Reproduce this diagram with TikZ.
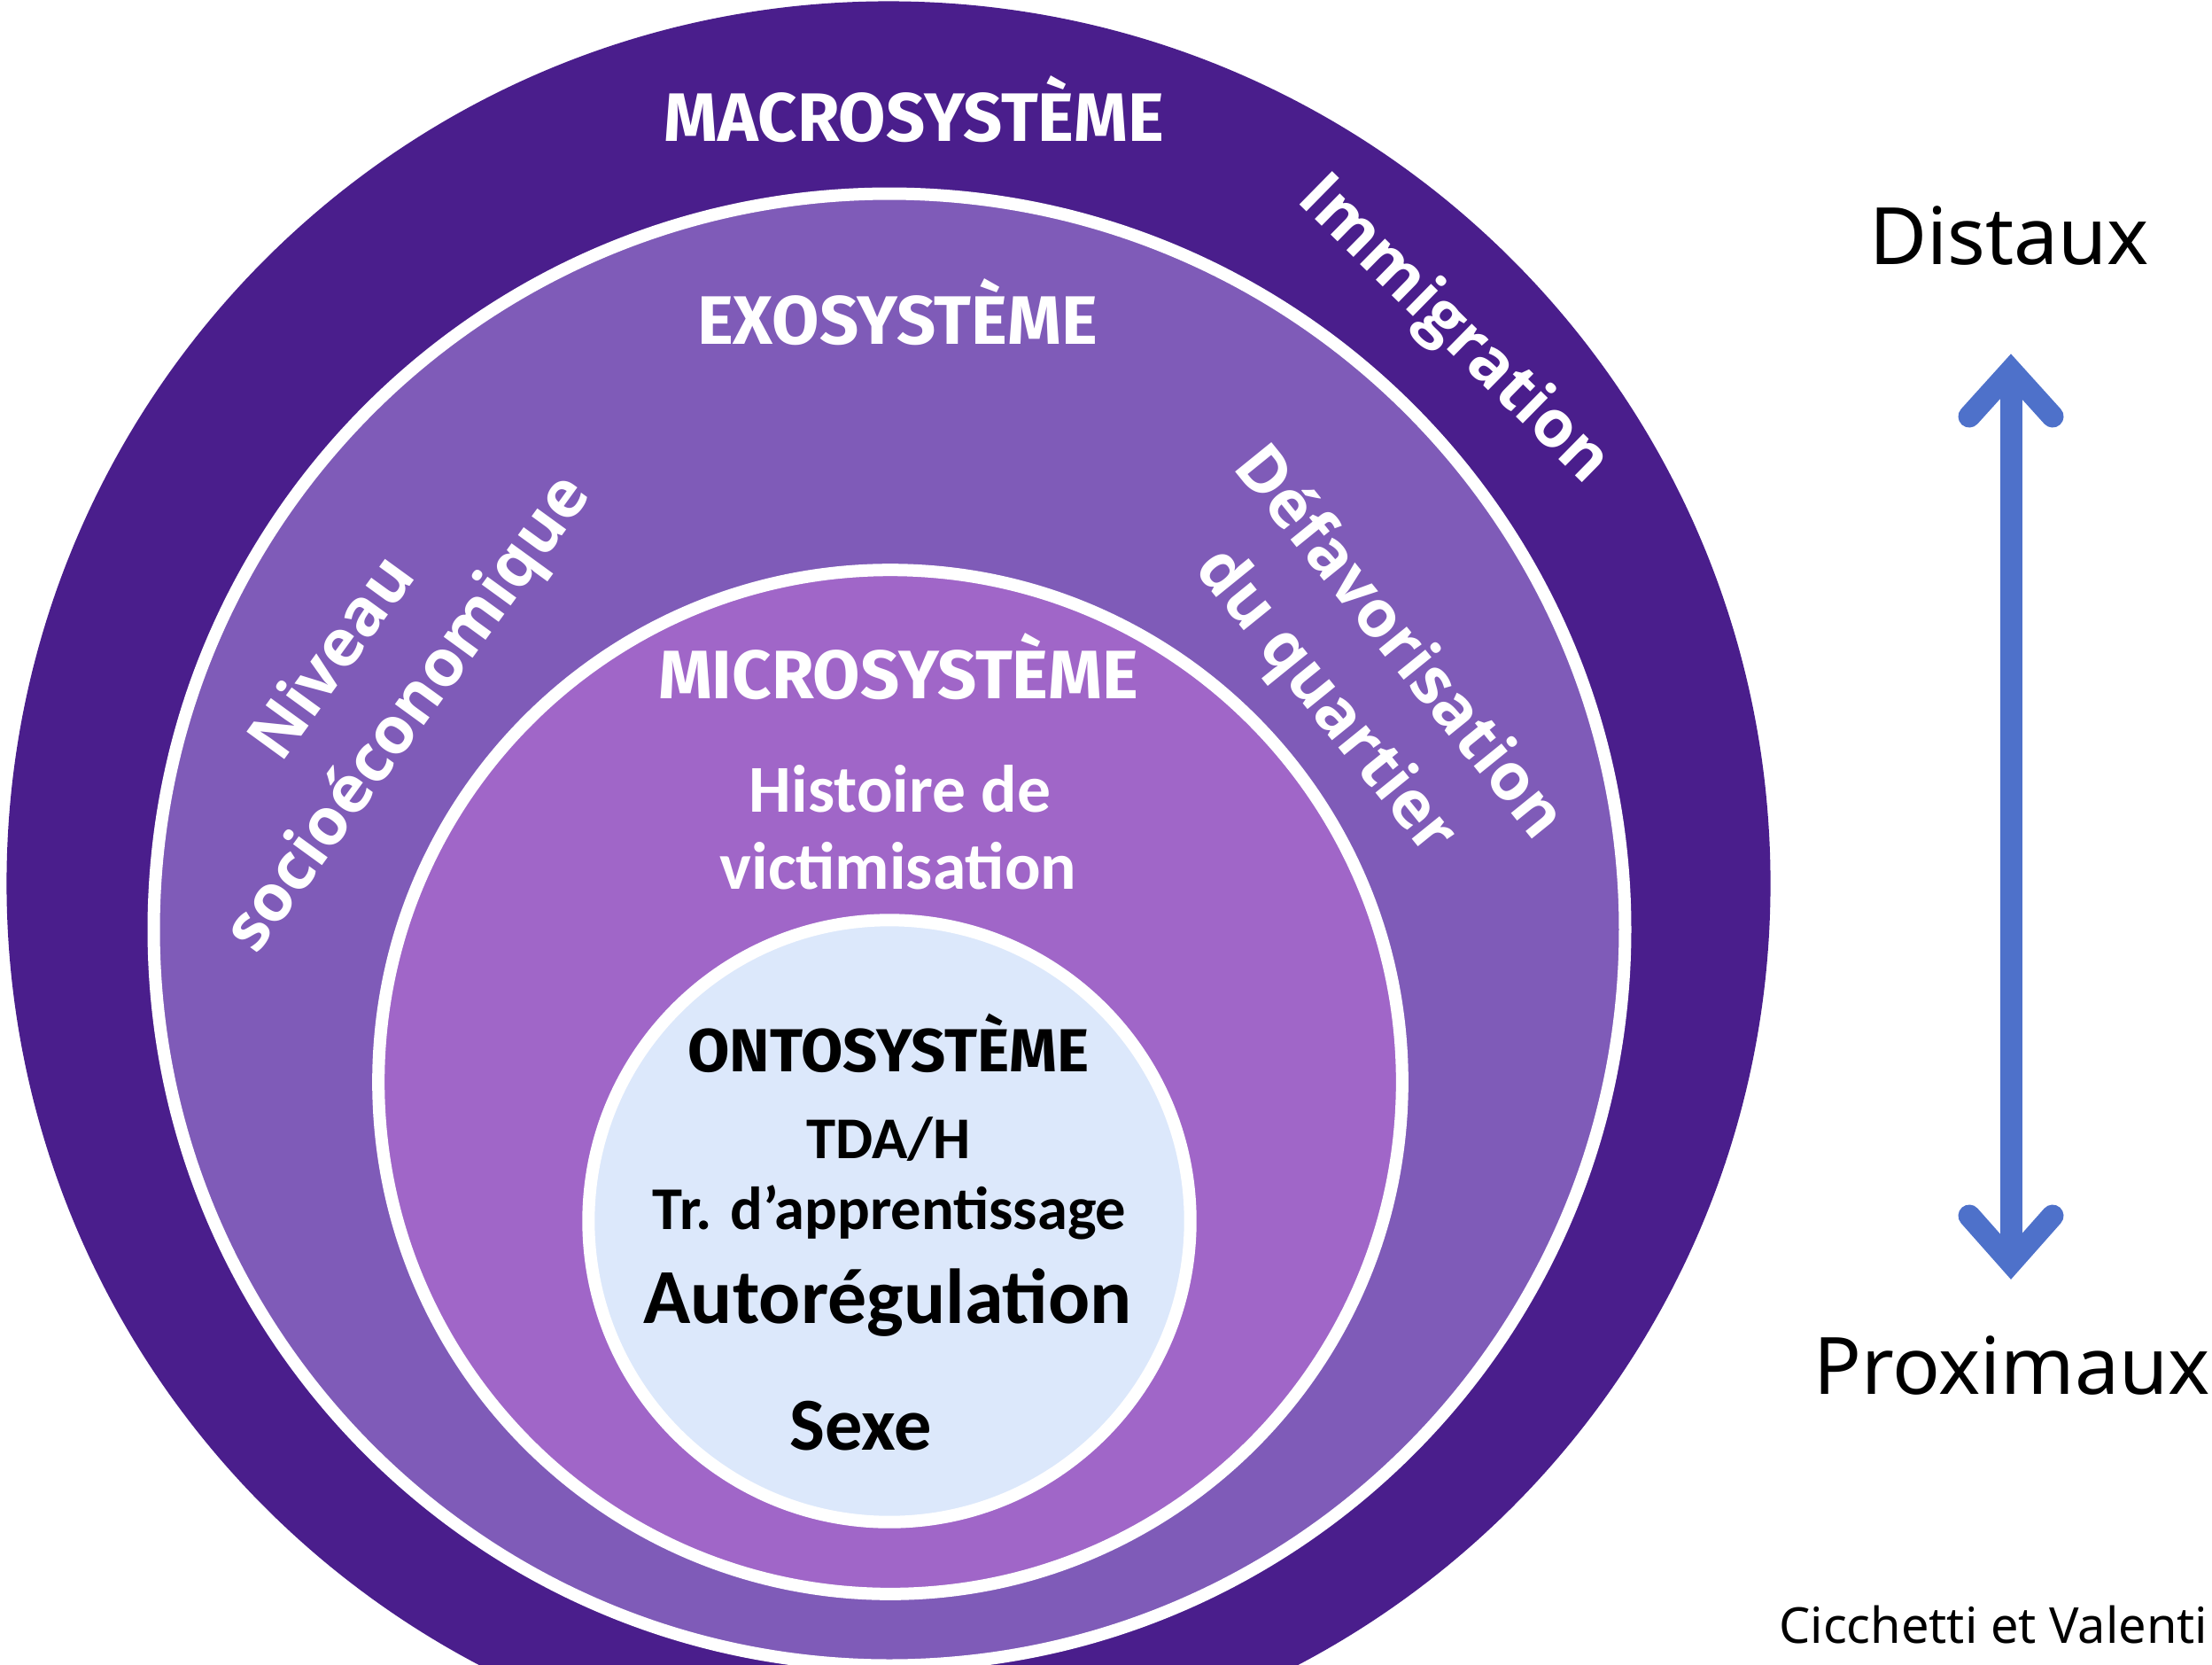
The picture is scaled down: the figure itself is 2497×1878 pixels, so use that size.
\documentclass[tikz,border=0pt]{standalone}
\usepackage{fontspec}
\usetikzlibrary{calc}
\newfontfamily\dinfont{Fira Sans}
\newfontfamily\calfont{Carlito}
\newfontfamily\notofont{Noto Sans}
\newfontfamily\opensfont{Open Sans}
\definecolor{macroc}{HTML}{4A1E8C}
\definecolor{exoc}{HTML}{7F5BB8}
\definecolor{microc}{HTML}{A066C8}
\definecolor{ontoc}{HTML}{DCE8FB}
\definecolor{arrowc}{HTML}{4E71CA}
\begin{document}
\begin{tikzpicture}[x=0.01cm,y=-0.01cm,
  disc/.style={circle, inner sep=0pt, outer sep=0pt},
  ring/.style={disc, draw=white, line width=0.14cm},
  syslabel/.style={anchor=base, inner sep=0pt, text=white, font=\dinfont\bfseries\fontsize{22}{26}\selectfont},
  rotlabel/.style={align=center, inner sep=0pt, text=white, font=\opensfont\bfseries\fontsize{21}{30}\selectfont},
  microtxt/.style={anchor=base, inner sep=0pt, text=white, font=\calfont\bfseries\fontsize{21.5}{25}\selectfont},
  ontotxt/.style={anchor=base, inner sep=0pt, text=black, font=\calfont\bfseries},
  sidetxt/.style={anchor=base, inner sep=0pt, text=black, font=\notofont\fontsize{25.4}{30}\selectfont},
  bluearrow/.style={draw=arrowc, line width=0.25cm}
]
\useasboundingbox (0,0) rectangle (2497,1878);
\clip (0,0) rectangle (2497,1878);

% nested systems
\node[disc, fill=macroc, minimum size=19.90cm] (macro) at (1003,997) {};
\node[ring, fill=exoc, minimum size=16.60cm] (exo) at (1004,1049) {};
\node[ring, fill=microc, minimum size=11.55cm] (micro) at (1005,1221) {};
\node[ring, fill=ontoc, minimum size=6.79cm] (onto) at (1004,1378) {};

% system titles
\node[syslabel] (macrolbl) at (1032,159) {MACROSYSTÈME};
\node[syslabel] (exolbl) at (1013,388) {EXOSYSTÈME};
\node[syslabel] (microlbl) at (1014,788) {MICROSYSTÈME};
\node[syslabel, text=black, font=\dinfont\bfseries\fontsize{19.5}{23}\selectfont] (ontolbl) at (1003,1209) {ONTOSYSTÈME};

% rotated factors
\node[rotlabel, rotate=54] (niveau) at (421,776) {Niveau\\socioéconomique};
\node[rotlabel, rotate=-51] (defav) at (1536,760) {Défavorisation\\du quartier};
\node[rotlabel, rotate=-44.5] (immig) at (1640,374) {Immigration};

% microsystem factor
\node[microtxt] (hist) at (1016,916) {Histoire de};
\node[microtxt] (vict) at (1014,1003) {victimisation};

% ontosystem factors
\node[ontotxt, font=\calfont\bfseries\fontsize{19}{23}\selectfont] (tdah) at (1003,1307) {TDA/H};
\node[ontotxt, font=\calfont\bfseries\fontsize{19.5}{23}\selectfont] (trapp) at (1004,1387) {Tr. d’apprentissage};
\node[ontotxt, font=\calfont\bfseries\fontsize{25}{30}\selectfont] (autoreg) at (1002,1493) {Autorégulation};
\node[ontotxt, font=\calfont\bfseries\fontsize{24}{29}\selectfont] (sexe) at (972,1636) {Sexe};

% side scale
\node[sidetxt] (dist) at (2268,298) {Distaux};
\node[sidetxt] (prox) at (2271,1573) {Proximaux};
\node[sidetxt, anchor=base east, font=\notofont\fontsize{15.9}{19}\selectfont] (cite) at (2493,1854) {Cicchetti et Valenti};

\coordinate (atop) at (2270,418);
\coordinate (abot) at (2270,1425);
\draw[bluearrow, line cap=butt] (atop) -- (abot);
\draw[bluearrow, line cap=round, line join=miter] ($(atop)+(-47,52)$) -- (atop) -- ($(atop)+(47,52)$);
\draw[bluearrow, line cap=round, line join=miter] ($(abot)+(-47,-53)$) -- (abot) -- ($(abot)+(47,-53)$);
\end{tikzpicture}
\end{document}
